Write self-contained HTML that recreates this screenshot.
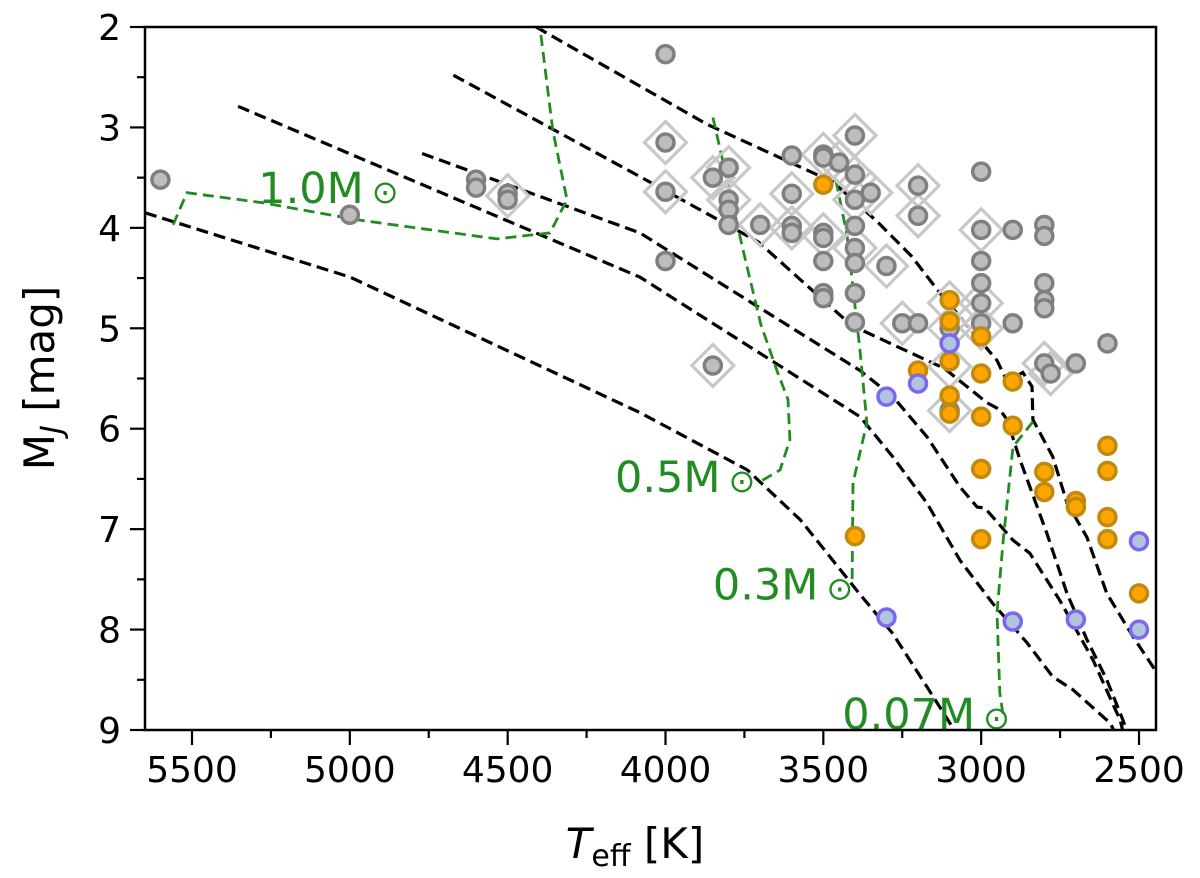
<!DOCTYPE html>
<html><head><meta charset="utf-8"><style>
html,body{margin:0;padding:0;background:#fff;}
svg text{font-family:"DejaVu Sans","Liberation Sans",sans-serif;}
</style></head><body>
<svg id="chart" width="1200" height="873" viewBox="0 0 1200 873" xmlns="http://www.w3.org/2000/svg">
<g id="tracks"></g>
<g id="marks"></g>
<g id="axes"></g>
</svg>
<script>
const xTicks=[5500,5000,4500,4000,3500,3000,2500];
const yTicks=[2,3,4,5,6,7,8,9];
const grayPts=[[5600,3.52],[5000,3.87],[4600,3.52],[4600,3.6],[4500,3.66],[4500,3.72],[4000,2.27],[4000,3.15],[4000,3.64],[4000,4.33],[3850,3.5],[3800,3.4],[3800,3.72],[3800,3.82],[3800,3.97],[3700,3.97],[3600,3.28],[3600,3.66],[3600,3.98],[3600,4.05],[3500,3.27],[3500,3.3],[3500,4.05],[3500,4.1],[3500,4.33],[3500,4.65],[3500,4.7],[3450,3.35],[3400,3.08],[3400,3.47],[3400,3.72],[3400,3.98],[3400,4.2],[3400,4.35],[3400,4.65],[3400,4.94],[3350,3.65],[3300,4.38],[3250,4.95],[3200,3.58],[3200,3.88],[3200,4.95],[3100,5.0],[3100,5.82],[3000,3.44],[3000,4.02],[3000,4.33],[3000,4.55],[3000,4.75],[3000,4.95],[2900,4.02],[2900,4.95],[2800,3.97],[2800,4.08],[2800,4.55],[2800,4.72],[2800,4.8],[2800,5.35],[2780,5.45],[2700,5.35],[2600,5.15],[3850,5.37]];
const diamondPts=[[4500,3.68],[4000,3.15],[4000,3.64],[3850,3.5],[3800,3.4],[3800,3.72],[3700,3.97],[3600,3.66],[3600,4.0],[3500,3.27],[3500,4.07],[3450,3.35],[3400,3.08],[3400,3.5],[3400,3.72],[3400,4.2],[3350,3.65],[3300,4.38],[3250,4.95],[3200,3.58],[3200,3.88],[3100,4.75],[3100,5.0],[3100,5.38],[3100,5.82],[3000,4.02],[3000,4.75],[3000,5.0],[2800,5.35],[2780,5.45],[3850,5.37]];
const orangePts=[[3500,3.57],[3100,4.72],[3100,4.93],[3100,5.33],[3100,5.67],[3100,5.85],[3200,5.42],[3000,5.08],[3000,5.45],[3000,5.88],[3000,6.4],[3000,7.1],[2900,5.53],[2900,5.97],[2800,6.43],[2800,6.63],[2700,6.72],[2700,6.78],[2600,6.17],[2600,6.42],[2600,6.88],[2600,7.1],[2500,7.64],[3400,7.07]];
const bluePts=[[3100,5.15],[3200,5.55],[3300,5.68],[3300,7.88],[2900,7.92],[2700,7.9],[2500,7.12],[2500,8.0]];
const isoA=[[5649,3.85],[4999,4.49],[4081,5.84],[3741,6.41],[3572,6.91],[3384,7.65],[3280,8.04],[3172,8.57],[3085,9.0]];
const isoB=[[5354,2.79],[4081,4.49],[3384,5.88],[3280,6.28],[3172,6.74],[3067,7.31],[2963,7.74],[2855,8.13],[2773,8.47],[2709,8.6],[2592,8.93],[2580,9.0]];
const isoC=[[4771,3.26],[4081,4.05],[3384,5.42],[3280,5.68],[3172,6.08],[3067,6.58],[3013,6.78],[2988,6.79],[2899,7.11],[2846,7.24],[2751,7.71],[2646,8.3],[2560,8.9],[2552,9.0]];
const isoD=[[4672,2.48],[4081,3.49],[3706,4.14],[3411,4.97],[3116,5.4],[2982,5.74],[2941,5.81],[2918,5.91],[2877,6.31],[2792,7.04],[2728,7.64],[2665,8.1],[2602,8.5],[2551,8.9],[2540,9.0]];
const isoE=[[4410,2.0],[3868,2.97],[3471,3.54],[3332,3.93],[3221,4.28],[3126,4.67],[2950,5.32],[2918,5.53],[2868,5.44],[2839,5.58],[2836,5.91],[2773,6.28],[2728,6.74],[2665,7.08],[2602,7.64],[2519,8.07],[2456,8.37],[2420,8.6]];
const trk10=[[5560,3.97],[5516,3.65],[5275,3.75],[4977,3.92],[4534,4.11],[4366,4.05],[4312,3.72],[4357,3.03],[4398,2.0]];
const trk05=[[3850,2.9],[3755,4.21],[3698,4.96],[3647,5.42],[3612,5.71],[3606,6.11],[3637,6.41],[3701,6.53]];
const trk03=[[3460,3.53],[3425,4.07],[3384,5.22],[3362,5.94],[3406,6.54],[3409,7.54]];
const trk007=[[2836,5.93],[2899,6.18],[2930,7.1],[2950,7.83],[2941,8.63],[2931,8.84]];
const trkLabels=[["1.0M",5290,3.75],["0.5M",4160,6.63],["0.3M",3850,7.7],["0.07M",3440,8.99]];

const NS="http://www.w3.org/2000/svg";
const L=145,R=1156,T=27,B=730;
function xs(t){return 192+(5500-t)*(1139-192)/3000;}
function ys(m){return T+(m-2)*(B-T)/7;}
function mk(tag,attrs,parent){const e=document.createElementNS(NS,tag);for(const k in attrs)e.setAttribute(k,attrs[k]);parent.appendChild(e);return e;}
const tr=document.getElementById('tracks'),mg=document.getElementById('marks'),ax=document.getElementById('axes');
function pathD(arr){return arr.map((p,i)=>(i?'L':'M')+xs(p[0]).toFixed(1)+','+ys(p[1]).toFixed(1)).join(' ');}
const clip=mk('clipPath',{id:'pc'},document.getElementById('chart'));mk('rect',{x:L,y:T,width:R-L,height:B-T},clip);
tr.setAttribute('clip-path','url(#pc)');
[[isoA,'isochrone-1'],[isoB,'isochrone-2'],[isoC,'isochrone-3'],[isoD,'isochrone-4'],[isoE,'isochrone-5']].forEach(([a,n])=>{
 const p=mk('path',{d:pathD(a),fill:'none',stroke:'#000','stroke-width':3.2,'stroke-dasharray':'12,6'},tr);
 
 
});
[[trk10,'track-1-0msun'],[trk05,'track-0-5msun'],[trk03,'track-0-3msun'],[trk007,'track-0-07msun']].forEach(([a,n])=>{
 const p=mk('path',{d:pathD(a),fill:'none',stroke:'#228b22','stroke-width':2.8,'stroke-dasharray':'11,6'},tr);
 
 
});
trkLabels.forEach(l=>{
 const t=mk('text',{x:xs(l[1]),y:ys(l[2]),fill:'#228b22','font-size':43},mg);
 t.textContent=l[0];
 const s=mk('tspan',{'font-size':32,dx:8},t);s.textContent='⊙';
 
 
});
diamondPts.forEach(p=>{
 const cx=xs(p[0]),cy=ys(p[1]),h=21;
 const d=mk('path',{d:`M${cx},${cy-h} L${cx+h},${cy} L${cx},${cy+h} L${cx-h},${cy} Z`,fill:'none',stroke:'#c8c8c8','stroke-width':3.2},mg);
 
 
});
grayPts.forEach(p=>{
 const c=mk('circle',{cx:xs(p[0]),cy:ys(p[1]),r:8.5,fill:'#bdbdbd',stroke:'#7f7f7f','stroke-width':3.5},mg);
 
 
});
orangePts.forEach(p=>{
 const c=mk('circle',{cx:xs(p[0]),cy:ys(p[1]),r:8.5,fill:'#ffa500',stroke:'#c08a10','stroke-width':3.5},mg);
 
 
});
bluePts.forEach(p=>{
 const c=mk('circle',{cx:xs(p[0]),cy:ys(p[1]),r:8.5,fill:'#b0c4de',stroke:'#7b68ee','stroke-width':3.5},mg);
 
 
});
const frame=mk('rect',{x:L,y:T,width:R-L,height:B-T,fill:'none',stroke:'#000','stroke-width':2.5},ax);


for(let t=5500;t>=2500;t-=250){const x=xs(t);mk('line',{x1:x,x2:x,y1:B,y2:B+(t%500?8:15),stroke:'#000','stroke-width':2.2},ax);}
xTicks.forEach(t=>{const e=mk('text',{x:xs(t),y:B+52,'text-anchor':'middle','font-size':36,fill:'#000'},ax);e.textContent=t;
 
 });
for(let m=2;m<=9;m+=0.5){const y=ys(m);mk('line',{x1:L,x2:L-(m%1?8:15),y1:y,y2:y,stroke:'#000','stroke-width':2.2},ax);}
yTicks.forEach(m=>{const e=mk('text',{x:L-24,y:ys(m)+13,'text-anchor':'end','font-size':36,fill:'#000'},ax);e.textContent=m;
 
 });
const xl=mk('text',{x:635,y:858,'text-anchor':'middle','font-size':42,fill:'#000'},ax);
xl.innerHTML='<tspan font-style="italic">T</tspan><tspan font-size="30" dy="8">eff</tspan><tspan dy="-8"> [K]</tspan>';


const yl=mk('text',{x:0,y:0,'text-anchor':'middle','font-size':42,fill:'#000',transform:'translate(54,378) rotate(-90)'},ax);
yl.innerHTML='M<tspan font-size="30" font-style="italic" dy="8">J</tspan><tspan dy="-8"> [mag]</tspan>';


</script>
</body></html>
